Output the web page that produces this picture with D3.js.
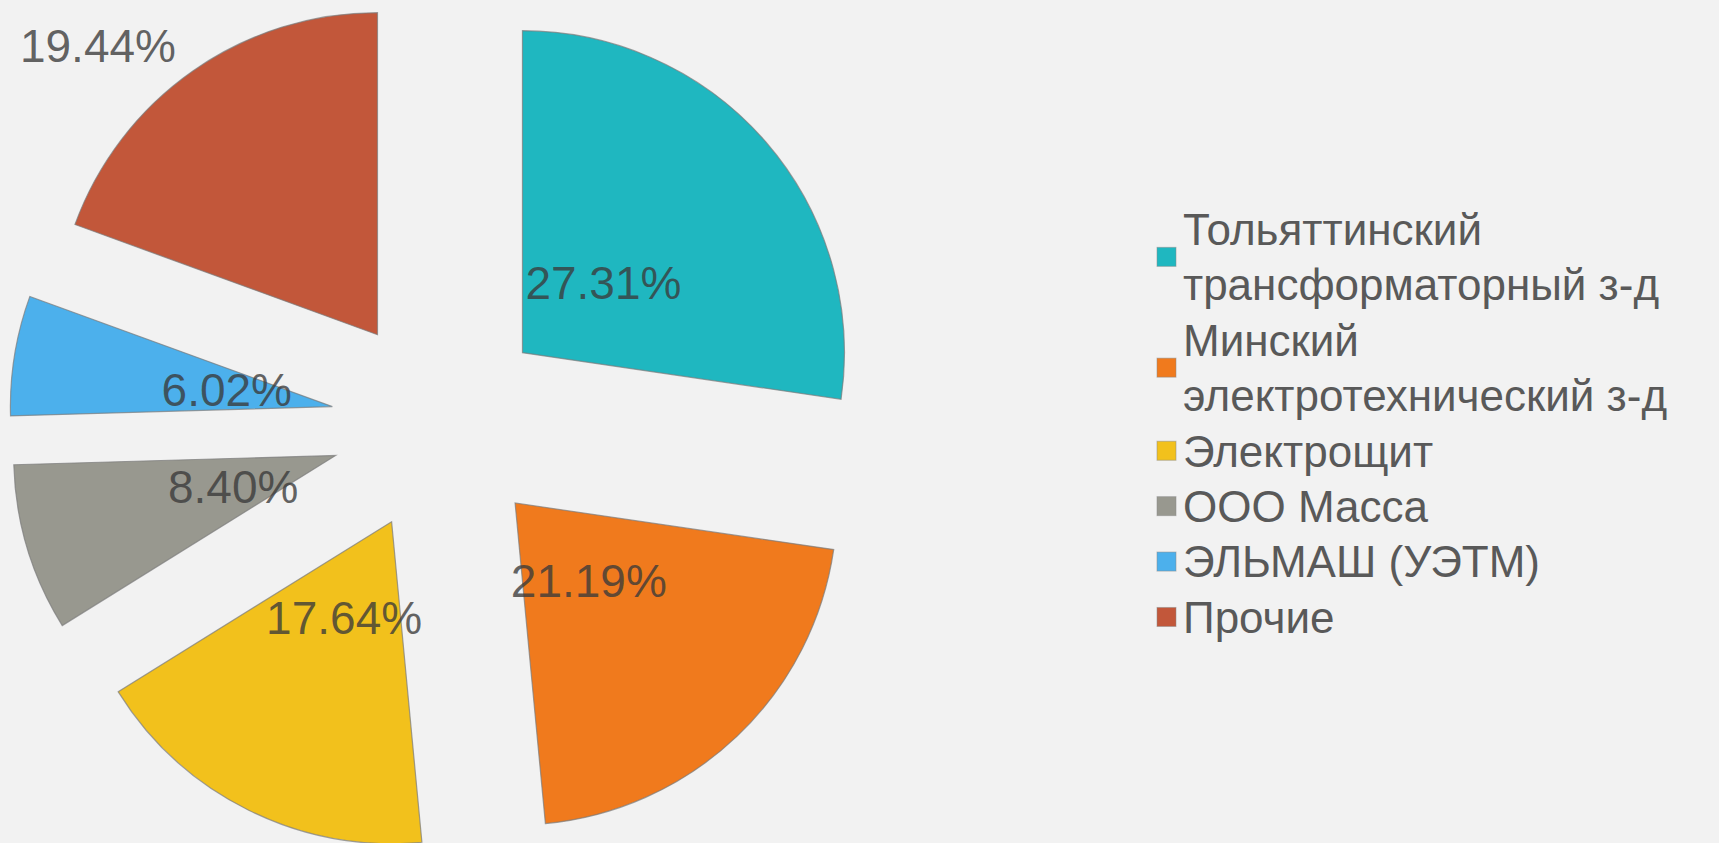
<!DOCTYPE html>
<html>
<head>
<meta charset="utf-8">
<script src="https://cdn.jsdelivr.net/npm/d3@7/dist/d3.min.js"></script>
<style>
  html, body { margin: 0; padding: 0; background: #f2f2f2; }
  svg { display: block; }
  text { font-family: "Liberation Sans", Arial, sans-serif; }
</style>
</head>
<body>
<svg id="chart" width="1719" height="843"></svg>
<script>
// ---- data ----
const categories = [
  "Тольяттинский трансформаторный з-д",
  "Минский электротехнический з-д",
  "Электрощит",
  "ООО Масса",
  "ЭЛЬМАШ (УЭТМ)",
  "Прочие"
];
const shares = [27.31, 21.19, 17.64, 8.40, 6.02, 19.44];
const valueLabels = ["27.31%", "21.19%", "17.64%", "8.40%", "6.02%", "19.44%"];
const colors = ["#1fb7c0", "#f07a1d", "#f2c11c", "#98988f", "#4cb0ec", "#c2573a"];

// ---- layout ----
const W = 1719, H = 843;
const cx = 440, cy = 424;
const R = 322;
const explode = 109;

const svg = d3.select("#chart");
svg.append("rect").attr("width", W).attr("height", H).attr("fill", "#f2f2f2");

const pie = d3.pie().sort(null).value(d => d.v);
const data = pie(shares.map((v, i) => ({ v, i })));

const arc = d3.arc().innerRadius(0).outerRadius(R);
const labelArc = d3.arc().innerRadius(107).outerRadius(107);

const g = svg.append("g").attr("transform", `translate(${cx},${cy})`);

function offset(d) {
  const a = (d.startAngle + d.endAngle) / 2;
  return [Math.sin(a) * explode, -Math.cos(a) * explode];
}

const slices = g.selectAll("g.slice").data(data).enter().append("g")
  .attr("class", "slice")
  .attr("transform", d => { const o = offset(d); return `translate(${o[0]},${o[1]})`; });

slices.append("path")
  .attr("d", arc)
  .attr("fill", d => colors[d.data.i])
  .attr("stroke", "#7a7a7a")
  .attr("stroke-opacity", 0.7)
  .attr("stroke-width", 1.2)
  .attr("stroke-linejoin", "miter");

// labels
slices.append("text")
  .attr("transform", d => {
    const last = d.index === data.length - 1;
    if (last) {
      // placed outside ("best fit")
      const a = (d.startAngle + d.endAngle) / 2 - 9 * Math.PI / 180;
      const rr = R * 1.25;
      return `translate(${Math.sin(a) * rr},${-Math.cos(a) * rr})`;
    }
    const c = labelArc.centroid(d);
    return `translate(${c[0]},${c[1]})`;
  })
  .attr("text-anchor", "middle")
  .attr("dy", "0.36em")
  .attr("font-size", 46)
  .attr("fill", "#3a3a3a")
  .attr("fill-opacity", 0.78)
  .text(d => valueLabels[d.data.i]);

// ---- legend ----
const legendX = 1157, textX = 1183, maxW = 530;
const fontSize = 44, lineH = 55.4, sq = 19;
const legend = svg.append("g");

// wrap each category
const meas = svg.append("text").attr("font-size", fontSize).attr("visibility", "hidden");
function wrap(str) {
  const words = str.split(" ");
  const lines = [];
  let cur = "";
  words.forEach(w => {
    const t = cur ? cur + " " + w : w;
    meas.text(t);
    if (meas.node().getComputedTextLength() > maxW && cur) { lines.push(cur); cur = w; }
    else cur = t;
  });
  if (cur) lines.push(cur);
  return lines;
}
const wrapped = categories.map(wrap);
meas.remove();
const totalLines = d3.sum(wrapped, l => l.length);
let baseline = cy - totalLines * lineH / 2 + 42.6;

wrapped.forEach((lines, i) => {
  const first = baseline;
  lines.forEach(line => {
    legend.append("text")
      .attr("x", textX).attr("y", baseline)
      .attr("font-size", fontSize)
      .attr("fill", "#595959")
      .text(line);
    baseline += lineH;
  });
  const last = baseline - lineH;
  const capTop = first - fontSize * 0.72;
  const mid = (capTop + last) / 2;
  legend.append("rect")
    .attr("x", legendX).attr("y", mid - sq / 2)
    .attr("width", sq).attr("height", sq)
    .attr("fill", colors[i])
    .attr("stroke", "#8a8a8a").attr("stroke-opacity", 0.5).attr("stroke-width", 1);
});
</script>
</body>
</html>
